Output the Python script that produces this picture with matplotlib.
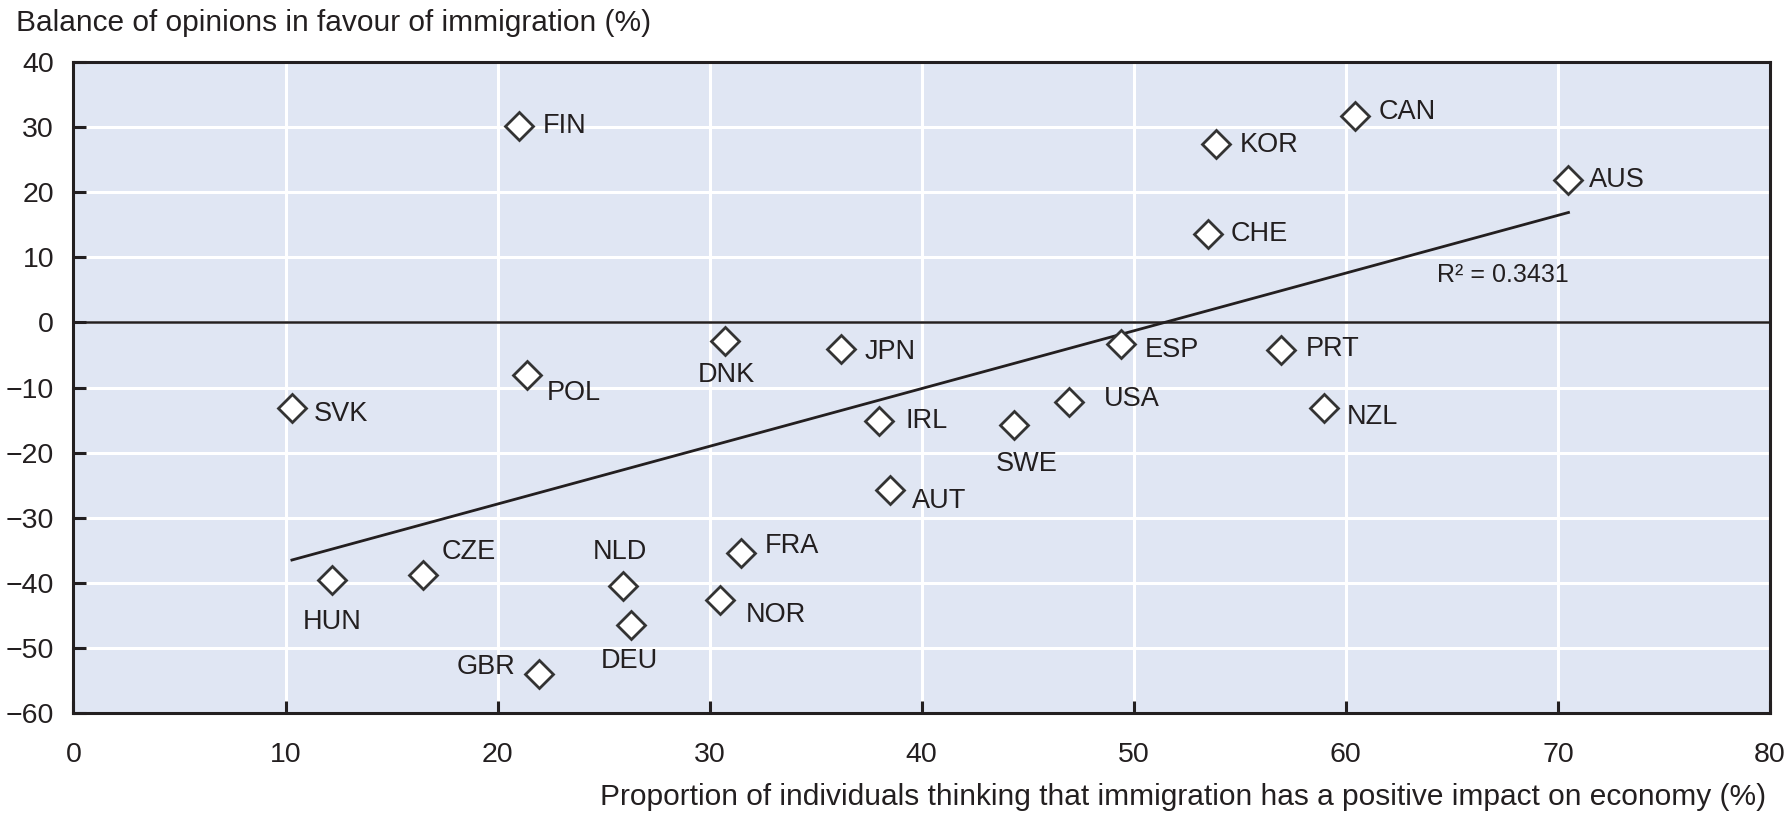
import numpy as np
import matplotlib
matplotlib.use("Agg")
import matplotlib.pyplot as plt

plt.rcParams["font.family"] = ["Liberation Sans", "DejaVu Sans"]

countries = ["FIN", "CAN", "KOR", "AUS", "CHE", "ESP", "PRT", "DNK", "JPN", "POL",
             "SVK", "IRL", "USA", "NZL", "SWE", "AUT", "FRA", "CZE", "HUN", "NLD",
             "NOR", "DEU", "GBR"]
positive_impact = [21.0, 60.45, 53.9, 70.5, 53.5, 49.4, 56.95, 30.7, 36.2, 21.4,
                   10.3, 38.0, 46.95, 58.95, 44.35, 38.5, 31.5, 16.5, 12.2, 25.9,
                   30.5, 26.3, 21.95]
balance = [30.2, 31.6, 27.4, 21.8, 13.5, -3.4, -4.3, -2.9, -4.1, -8.1,
           -13.2, -15.2, -12.2, -13.2, -15.7, -25.7, -35.4, -38.7, -39.6, -40.4,
           -42.6, -46.4, -53.9]

x_ticks = [0, 10, 20, 30, 40, 50, 60, 70, 80]
y_ticks = [40, 30, 20, 10, 0, -10, -20, -30, -40, -50, -60]
r2_text = "R² = 0.3431"

# label placement: offset in points, horizontal / vertical alignment
label_pos = {
    "FIN": ((17, 0), "left", "center"),
    "CAN": ((17, 3), "left", "center"),
    "KOR": ((17, -1), "left", "center"),
    "AUS": ((15, 0), "left", "center"),
    "CHE": ((16, 0), "left", "center"),
    "ESP": ((17, -4), "left", "center"),
    "PRT": ((18, 1), "left", "center"),
    "DNK": ((1, -24), "center", "center"),
    "JPN": ((17, -2), "left", "center"),
    "POL": ((14, -13), "left", "center"),
    "SVK": ((16, -4), "left", "center"),
    "IRL": ((19, 0), "left", "center"),
    "USA": ((25, 2), "left", "center"),
    "NZL": ((17, -6), "left", "center"),
    "SWE": ((9, -28), "center", "center"),
    "AUT": ((16, -8), "left", "center"),
    "FRA": ((17, 5), "left", "center"),
    "CZE": ((13, 16), "left", "center"),
    "HUN": ((0, -30), "center", "center"),
    "NLD": ((-2, 24), "center", "center"),
    "NOR": ((18, -11), "left", "center"),
    "DEU": ((-1, -26), "center", "center"),
    "GBR": ((-17, 5), "right", "center"),
}

text_color = "#231f20"
bg_color = "#e0e6f3"

fig = plt.figure(figsize=(17.88, 8.17), dpi=100)
ax = fig.add_axes([0.0411, 0.1269, 0.9488, 0.7976])
ax.set_facecolor(bg_color)

ax.set_xlim(0, 80)
ax.set_ylim(-60, 40)
ax.set_xticks(x_ticks)
ax.set_yticks(y_ticks)
ax.grid(True, color="white", linewidth=2.2)
ax.set_axisbelow(True)
ax.axhline(0, color=text_color, linewidth=1.8, zorder=2)

for side in ax.spines.values():
    side.set_color(text_color)
    side.set_linewidth(2.2)

ax.tick_params(axis="both", direction="in", length=9, width=2.2, color=text_color,
               labelsize=20.5, labelcolor=text_color)
ax.tick_params(axis="x", pad=21)
ax.tick_params(axis="y", pad=14)

# trend line from a linear fit of the points
x = np.array(positive_impact)
y = np.array(balance)
slope, intercept = np.polyfit(x, y, 1)
xs = np.array([x.min(), x.max()])
ax.plot(xs, slope * xs + intercept, color=text_color, linewidth=2.0, zorder=3)

ax.plot(x, y, linestyle="none", marker="D", markersize=14, markerfacecolor="white",
        markeredgecolor="#333333", markeredgewidth=2.0, zorder=4)

for name, px, py in zip(countries, positive_impact, balance):
    (dx, dy), ha, va = label_pos[name]
    ax.annotate(name, (px, py), xytext=(dx, dy), textcoords="offset points",
                ha=ha, va=va, fontsize=19.5, color=text_color, zorder=5)

ax.text(64.3, 7.3, r2_text, ha="left", va="center", fontsize=18, color=text_color)

fig.text(0.009, 0.972, "Balance of opinions in favour of immigration (%)",
         ha="left", va="center", fontsize=21.5, color=text_color)
fig.text(0.988, 0.024,
         "Proportion of individuals thinking that immigration has a positive impact on economy (%)",
         ha="right", va="center", fontsize=21.5, color=text_color)

fig.savefig("out.png", dpi=100)
